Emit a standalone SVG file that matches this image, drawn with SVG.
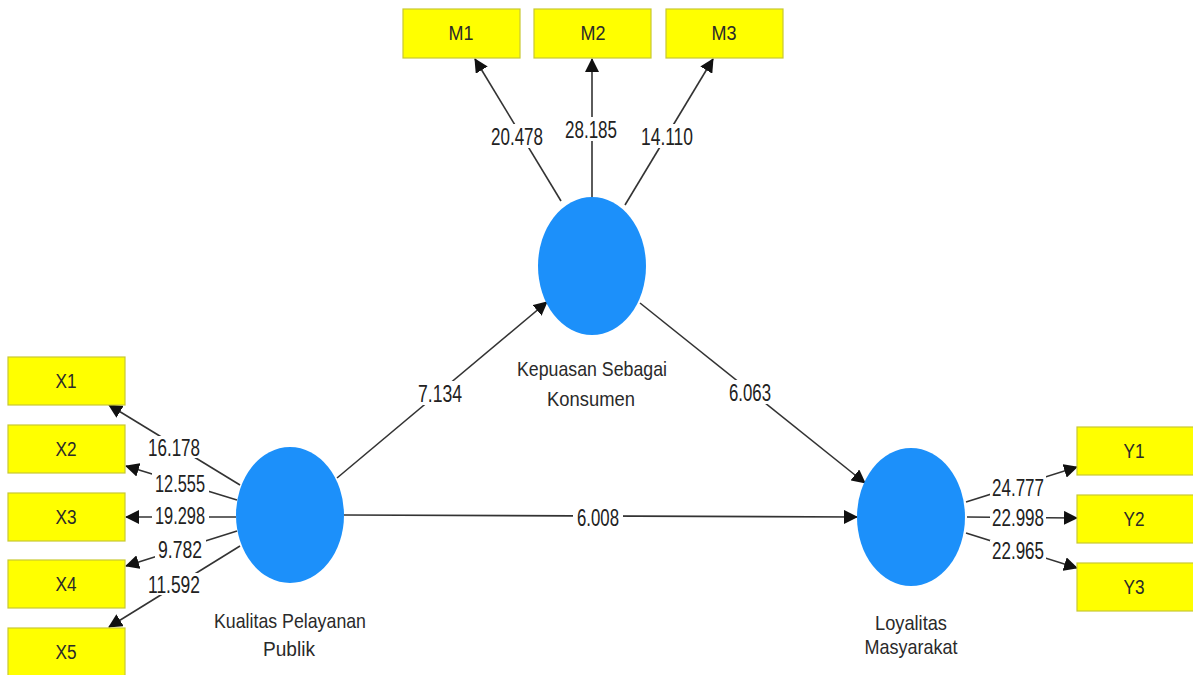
<svg xmlns="http://www.w3.org/2000/svg" width="1193" height="675" viewBox="0 0 1193 675">
<style>
.box{fill:#ffff00;stroke:#c8c832;stroke-width:1.2}
.bt{font-family:"Liberation Sans",Arial,sans-serif;font-size:20px;fill:#2a2a2a;text-anchor:middle}
.lv{fill:#1c90fa}
.nt{font-family:"Liberation Sans",Arial,sans-serif;font-size:21px;fill:#2a2a2a;text-anchor:middle}
.ln{stroke:#333;stroke-width:1.6;fill:none;marker-end:url(#ah)}
.lb{font-family:"Liberation Sans",Arial,sans-serif;font-size:23px;fill:#222;text-anchor:middle}
.bg{fill:#fff}
</style>
<defs>
<marker id="ah" markerUnits="userSpaceOnUse" markerWidth="14" markerHeight="14" viewBox="0 0 14 14" refX="13" refY="7" orient="auto">
<path d="M0,0 L14,7 L0,14 z" fill="#111"/>
</marker>
</defs>
<rect width="1193" height="675" fill="#fff"/>
<g id="connectors">
<line class="ln" x1="240" y1="485" x2="109" y2="405"/>
<line class="ln" x1="237" y1="500" x2="126" y2="466"/>
<line class="ln" x1="236" y1="517" x2="126" y2="517"/>
<line class="ln" x1="237" y1="531" x2="126" y2="566"/>
<line class="ln" x1="240" y1="546" x2="109" y2="627"/>
<line class="ln" x1="561" y1="201" x2="475" y2="59"/>
<line class="ln" x1="592" y1="197" x2="592" y2="59"/>
<line class="ln" x1="625" y1="205" x2="713" y2="59"/>
<line class="ln" x1="337" y1="478" x2="547" y2="302"/>
<line class="ln" x1="640" y1="303" x2="865" y2="483"/>
<line class="ln" x1="344" y1="515" x2="857" y2="517"/>
<line class="ln" x1="966" y1="502" x2="1077" y2="467"/>
<line class="ln" x1="967" y1="517" x2="1077" y2="518"/>
<line class="ln" x1="966" y1="533" x2="1077" y2="568"/>
<rect class="bg" x="145" y="436" width="58" height="22"/>
<text class="lb" x="174" y="456" textLength="52" lengthAdjust="spacingAndGlyphs">16.178</text>
<rect class="bg" x="152" y="472" width="57" height="22"/>
<text class="lb" x="180" y="492" textLength="50" lengthAdjust="spacingAndGlyphs">12.555</text>
<rect class="bg" x="152" y="505" width="57" height="22"/>
<text class="lb" x="180" y="524" textLength="50" lengthAdjust="spacingAndGlyphs">19.298</text>
<rect class="bg" x="155" y="538" width="51" height="22"/>
<text class="lb" x="180" y="558" textLength="44" lengthAdjust="spacingAndGlyphs">9.782</text>
<rect class="bg" x="145" y="573" width="58" height="22"/>
<text class="lb" x="174" y="593" textLength="52" lengthAdjust="spacingAndGlyphs">11.592</text>
<rect class="bg" x="488" y="124" width="58" height="24"/>
<text class="lb" x="517" y="145" textLength="52" lengthAdjust="spacingAndGlyphs">20.478</text>
<rect class="bg" x="562" y="117" width="58" height="24"/>
<text class="lb" x="591" y="138" textLength="52" lengthAdjust="spacingAndGlyphs">28.185</text>
<rect class="bg" x="638" y="124" width="58" height="24"/>
<text class="lb" x="667" y="145" textLength="52" lengthAdjust="spacingAndGlyphs">14.110</text>
<rect class="bg" x="414" y="381" width="52" height="24"/>
<text class="lb" x="440" y="402" textLength="44" lengthAdjust="spacingAndGlyphs">7.134</text>
<rect class="bg" x="725" y="380" width="50" height="24"/>
<text class="lb" x="750" y="401" textLength="42" lengthAdjust="spacingAndGlyphs">6.063</text>
<rect class="bg" x="573" y="505" width="50" height="24"/>
<text class="lb" x="598" y="526" textLength="42" lengthAdjust="spacingAndGlyphs">6.008</text>
<rect class="bg" x="990" y="476" width="56" height="22"/>
<text class="lb" x="1018" y="496" textLength="52" lengthAdjust="spacingAndGlyphs">24.777</text>
<rect class="bg" x="990" y="507" width="56" height="22"/>
<text class="lb" x="1018" y="526" textLength="52" lengthAdjust="spacingAndGlyphs">22.998</text>
<rect class="bg" x="990" y="540" width="56" height="22"/>
<text class="lb" x="1018" y="559" textLength="52" lengthAdjust="spacingAndGlyphs">22.965</text>
</g>
<g id="X1"><rect class="box" x="8" y="357" width="117" height="48"/><text class="bt" x="66" y="388" textLength="21" lengthAdjust="spacingAndGlyphs">X1</text></g>
<g id="X2"><rect class="box" x="8" y="425" width="117" height="48"/><text class="bt" x="66" y="456" textLength="21" lengthAdjust="spacingAndGlyphs">X2</text></g>
<g id="X3"><rect class="box" x="8" y="493" width="117" height="48"/><text class="bt" x="66" y="524" textLength="21" lengthAdjust="spacingAndGlyphs">X3</text></g>
<g id="X4"><rect class="box" x="8" y="560" width="117" height="48"/><text class="bt" x="66" y="591" textLength="21" lengthAdjust="spacingAndGlyphs">X4</text></g>
<g id="X5"><rect class="box" x="8" y="628" width="117" height="48"/><text class="bt" x="66" y="659" textLength="21" lengthAdjust="spacingAndGlyphs">X5</text></g>
<g id="M1"><rect class="box" x="403" y="9" width="117" height="49"/><text class="bt" x="461" y="40" textLength="25" lengthAdjust="spacingAndGlyphs">M1</text></g>
<g id="M2"><rect class="box" x="534" y="9" width="117" height="49"/><text class="bt" x="593" y="40" textLength="25" lengthAdjust="spacingAndGlyphs">M2</text></g>
<g id="M3"><rect class="box" x="666" y="9" width="117" height="49"/><text class="bt" x="724" y="40" textLength="25" lengthAdjust="spacingAndGlyphs">M3</text></g>
<g id="Y1"><rect class="box" x="1077" y="427" width="117" height="48"/><text class="bt" x="1134" y="458" textLength="21" lengthAdjust="spacingAndGlyphs">Y1</text></g>
<g id="Y2"><rect class="box" x="1077" y="495" width="117" height="48"/><text class="bt" x="1134" y="526" textLength="21" lengthAdjust="spacingAndGlyphs">Y2</text></g>
<g id="Y3"><rect class="box" x="1077" y="563" width="117" height="48"/><text class="bt" x="1134" y="594" textLength="21" lengthAdjust="spacingAndGlyphs">Y3</text></g>
<g id="KPP"><ellipse class="lv" cx="290" cy="515" rx="54" ry="68"/>
<text class="nt" x="290" y="628" textLength="152" lengthAdjust="spacingAndGlyphs">Kualitas Pelayanan</text>
<text class="nt" x="289" y="656" textLength="52" lengthAdjust="spacingAndGlyphs">Publik</text></g>
<g id="KSK"><ellipse class="lv" cx="592" cy="266" rx="54" ry="69"/>
<text class="nt" x="592" y="376" textLength="150" lengthAdjust="spacingAndGlyphs">Kepuasan Sebagai</text>
<text class="nt" x="591" y="406" textLength="88" lengthAdjust="spacingAndGlyphs">Konsumen</text></g>
<g id="LM"><ellipse class="lv" cx="911" cy="517" rx="54" ry="69"/>
<text class="nt" x="911" y="630" textLength="72" lengthAdjust="spacingAndGlyphs">Loyalitas</text>
<text class="nt" x="911" y="654" textLength="93" lengthAdjust="spacingAndGlyphs">Masyarakat</text></g>
</svg>
